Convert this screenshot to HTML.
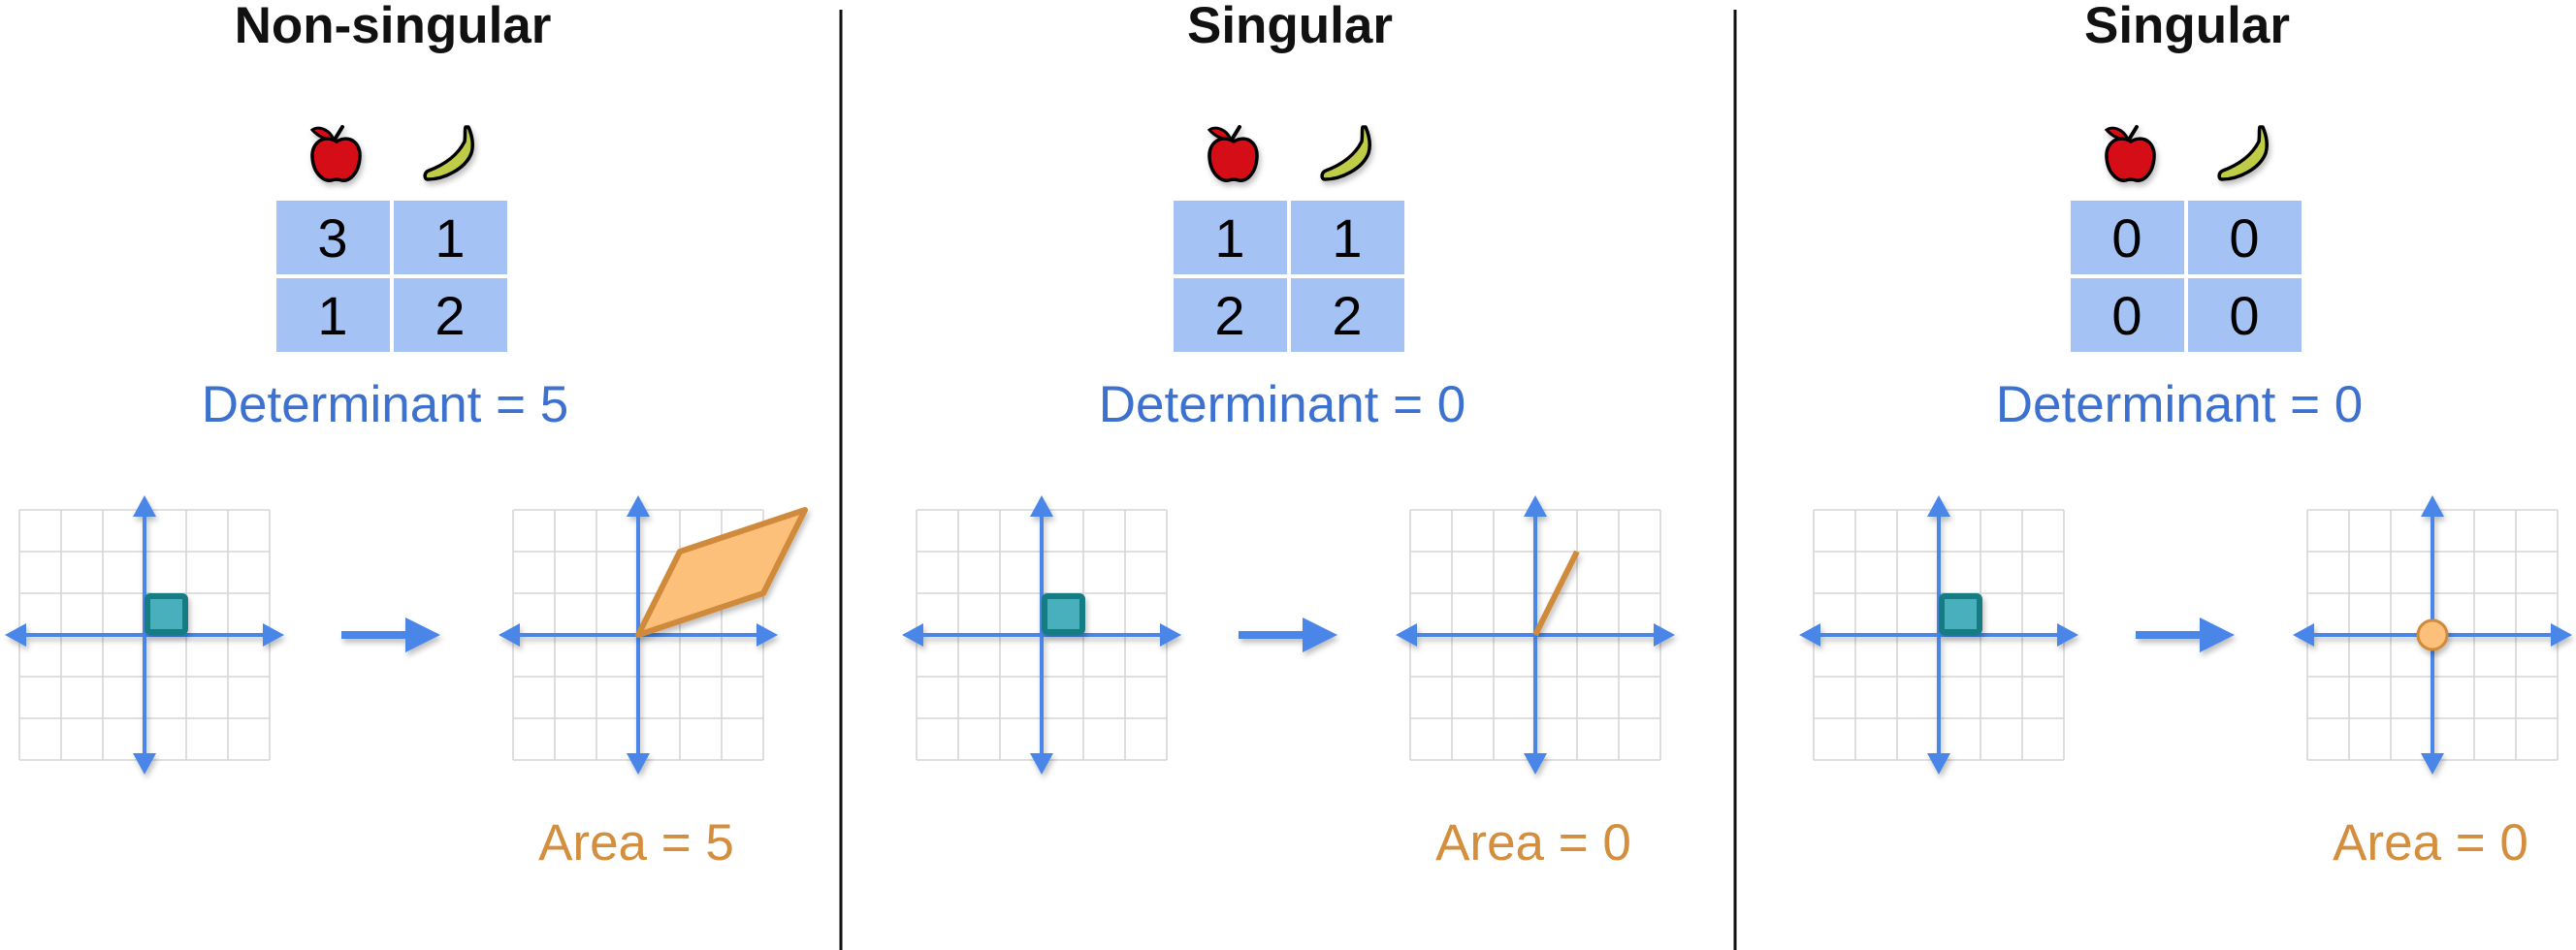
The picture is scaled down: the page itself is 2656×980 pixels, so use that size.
<!DOCTYPE html>
<html><head><meta charset="utf-8"><style>
html,body{margin:0;padding:0;background:#fff;}
svg{display:block;font-family:"Liberation Sans",Arial,sans-serif;}
</style></head><body>
<svg id="fig" width="2656" height="980" viewBox="0 0 2656 980" xmlns="http://www.w3.org/2000/svg">
<defs>
<filter id="sh" x="-30%" y="-30%" width="160%" height="160%"><feDropShadow dx="2" dy="4" stdDeviation="3" flood-color="#000" flood-opacity="0.25"/></filter>
</defs>
<line x1="867" y1="10" x2="867" y2="980" stroke="#111" stroke-width="3"/>
<line x1="1789" y1="10" x2="1789" y2="980" stroke="#111" stroke-width="3"/>
<g id="panels"></g>
</svg>
<script>
const titles = ["Non-singular", "Singular", "Singular"];
const matrices = [[[3,1],[1,2]], [[1,1],[2,2]], [[0,0],[0,0]]];
const determinants = [5, 0, 0];
const areas = [5, 0, 0];

const NS = "http://www.w3.org/2000/svg";
const root = document.getElementById('panels');
function mk(tag, attrs, parent){ const e=document.createElementNS(NS,tag); for(const k in attrs) e.setAttribute(k,attrs[k]); (parent||root).appendChild(e); return e; }
const CELL = 43;
const OFFSET = 925;

function drawGrid(g, ox, oy, name){
  const grp = mk('g', {}, g);
  
  
  for(let i=-3;i<=3;i++){
    mk('line',{x1:ox+i*CELL,y1:oy-3*CELL,x2:ox+i*CELL,y2:oy+3*CELL,stroke:'#d6d6d6','stroke-width':1.6},grp);
    mk('line',{x1:ox-3*CELL,y1:oy+i*CELL,x2:ox+3*CELL,y2:oy+i*CELL,stroke:'#d6d6d6','stroke-width':1.6},grp);
  }
  const ax = mk('g',{fill:'#4a86e8',stroke:'none',filter:'url(#sh)'},grp);
  
  
  mk('rect',{x:ox-3*CELL-6,y:oy-2,width:6*CELL+12,height:4},ax);
  mk('rect',{x:ox-2,y:oy-3*CELL-6,width:4,height:6*CELL+12},ax);
  const L=144, A=22, W=12;
  mk('polygon',{points:`${ox+L},${oy} ${ox+L-A},${oy-W} ${ox+L-A},${oy+W}`},ax);
  mk('polygon',{points:`${ox-L},${oy} ${ox-L+A},${oy-W} ${ox-L+A},${oy+W}`},ax);
  mk('polygon',{points:`${ox},${oy-L} ${ox-W},${oy-L+A} ${ox+W},${oy-L+A}`},ax);
  mk('polygon',{points:`${ox},${oy+L} ${ox-W},${oy+L-A} ${ox+W},${oy+L-A}`},ax);
}

function apple(g,cx,cy){
  const a = mk('g',{filter:'url(#sh)'},g);
  
  
  mk('path',{d:`M${cx-2},${cy-14} L${cx+6},${cy-27}`,stroke:'#000','stroke-width':4,fill:'none','stroke-linecap':'round'},a);
  mk('path',{d:`M${cx-3},${cy-14} C${cx-8},${cy-26} ${cx-20},${cy-28} ${cx-25},${cy-24} C${cx-18},${cy-16} ${cx-10},${cy-14} ${cx-3},${cy-14}Z`,fill:'#d40a16',stroke:'#000','stroke-width':3},a);
  mk('path',{d:`M${cx},${cy-12} C${cx+14},${cy-20} ${cx+25},${cy-10} ${cx+24},${cy+4} C${cx+23},${cy+22} ${cx+12},${cy+30} ${cx+5},${cy+28} C${cx+2},${cy+27} ${cx-2},${cy+27} ${cx-5},${cy+28} C${cx-12},${cy+30} ${cx-24},${cy+22} ${cx-25},${cy+4} C${cx-26},${cy-10} ${cx-14},${cy-20} ${cx},${cy-12}Z`,fill:'#d40a16',stroke:'#000','stroke-width':3.5},a);
}
function banana(g,cx,cy){
  const b = mk('g',{filter:'url(#sh)'},g);
  
  
  mk('path',{d:`M${cx+17},${cy-27} C${cx+20},${cy-20} ${cx+23},${cy-10} ${cx+20},${cy} C${cx+14},${cy+16} ${cx-8},${cy+27} ${cx-25},${cy+27} C${cx-29},${cy+27} ${cx-29},${cy+20} ${cx-24},${cy+18} C${cx-8},${cy+12} ${cx+6},${cy+2} ${cx+13},${cy-12} C${cx+14},${cy-18} ${cx+13},${cy-24} ${cx+14},${cy-27}Z`,fill:'#bfcc46',stroke:'#000','stroke-width':3.5,'stroke-linejoin':'round'},b);
}

titles.forEach((t,p)=>{
  const dx = p*OFFSET;
  const g = mk('g',{});
  
  
  const tt = mk('text',{x:405+dx,y:44,'text-anchor':'middle','font-size':53,'font-weight':'bold',fill:'#111'},g);
  tt.textContent = t;
  
  
  apple(g,347+dx,158);
  banana(g,466+dx,158);
  const M = matrices[p];
  const mg = mk('g',{},g);
  
  
  for(let r=0;r<2;r++) for(let c=0;c<2;c++){
    const x=285+dx+c*121, y=207+r*80;
    const cell = mk('rect',{x:x,y:y,width:117,height:76,fill:'#a4c2f4'},mg);
    
    
    const tx = mk('text',{x:x+58,y:y+58,'text-anchor':'middle','font-size':56,fill:'#000'},mg);
    tx.textContent = M[r][c];
    
    
  }
  const det = mk('text',{x:397+dx,y:435,'text-anchor':'middle','font-size':53,fill:'#3d71d0'},g);
  det.textContent = 'Determinant = '+determinants[p];
  
  

  // left grid with unit square
  const lox=149+dx, loy=655;
  drawGrid(g,lox,loy,'input-grid');
  const sq = mk('rect',{x:lox+3,y:loy-CELL+3,width:CELL-4,height:CELL-6,rx:3,fill:'#47b0bc',stroke:'#127c84','stroke-width':6,filter:'url(#sh)'},g);
  
  

  // transform arrow
  const ar = mk('g',{fill:'#4a86e8',filter:'url(#sh)'},g);
  
  
  mk('rect',{x:352+dx,y:loy-4,width:72,height:8},ar);
  mk('polygon',{points:`${454+dx},${loy} ${418+dx},${loy-18} ${418+dx},${loy+18}`},ar);

  // right grid with image
  const rox=658+dx, roy=655;
  drawGrid(g,rox,roy,'output-grid');
  const a=M[0][0], b=M[0][1], c=M[1][0], d=M[1][1];
  // columns of matrix as image vectors: col1=(a,c)? use rows as vectors per picture: v1=(b,d)... image of unit square
  const v1=[M[1][0],M[0][0]===3?1:M[1][0]]; // placeholder overwritten below
  const u=[M[0][1]*1, M[1][1]*0]; 
  const p1=[M[0][1], M[1][1]];      // (1,2)
  const p2=[M[0][0], M[1][0]];      // (3,1)
  const X=v=>rox+v*CELL, Y=v=>roy-v*CELL;
  if(determinants[p]!==0){
    const poly = mk('polygon',{points:`${X(0)},${Y(0)} ${X(p1[0])},${Y(p1[1])} ${X(p1[0]+p2[0])},${Y(p1[1]+p2[1])} ${X(p2[0])},${Y(p2[1])}`,fill:'#fdc07a',stroke:'#d08a3a','stroke-width':6,'stroke-linejoin':'round',filter:'url(#sh)'},g);
    
    
  } else if(p1[0]!==0||p1[1]!==0||p2[0]!==0||p2[1]!==0){
    const ln = mk('line',{x1:X(0),y1:Y(0),x2:X(p1[0]),y2:Y(p1[1]),stroke:'#d08a3a','stroke-width':6,filter:'url(#sh)'},g);
    
    
  } else {
    const dot = mk('circle',{cx:X(0),cy:Y(0),r:15,fill:'#fdc07a',stroke:'#d08a3a','stroke-width':3,filter:'url(#sh)'},g);
    
    
  }
  const ar2 = mk('text',{x:656+dx,y:887,'text-anchor':'middle','font-size':53,fill:'#d38e3e'},g);
  ar2.textContent = 'Area = '+areas[p];
  
  
});
</script>
</body></html>
